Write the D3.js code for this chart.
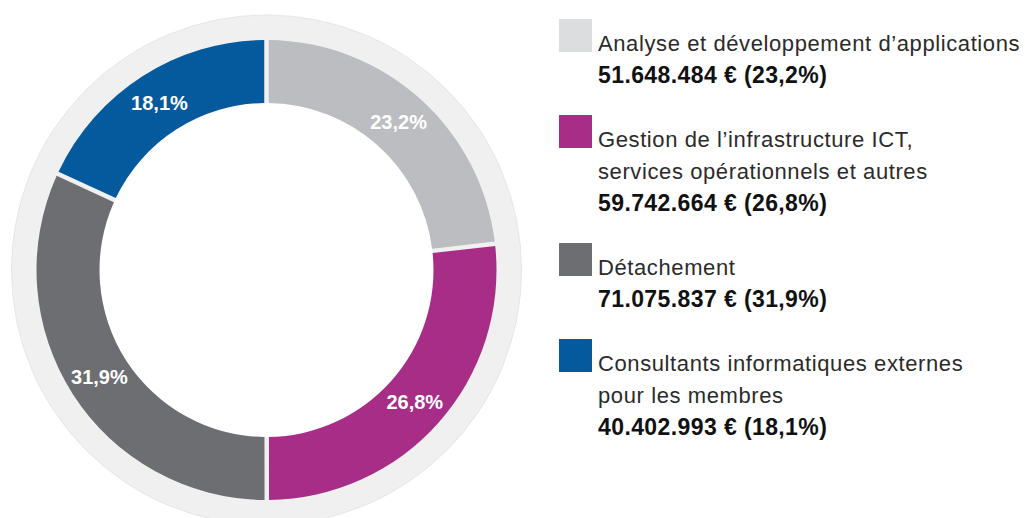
<!DOCTYPE html>
<html>
<head>
<meta charset="utf-8">
<script src="https://cdn.jsdelivr.net/npm/d3@7"></script>
<style>
  body { margin: 0; background: #fff; }
  svg { display: block; font-family: "Liberation Sans", Arial, sans-serif; }
</style>
</head>
<body>
<div class="visHolder"></div>
<script>
var width = 1025,
  height = 518;

// data
const categories = [
  ["Analyse et développement d’applications"],
  ["Gestion de l’infrastructure ICT,", "services opérationnels et autres"],
  ["Détachement"],
  ["Consultants informatiques externes", "pour les membres"]
];
const values = [51648484, 59742664, 71075837, 40402993];
const amountLabels = ["51.648.484 €", "59.742.664 €", "71.075.837 €", "40.402.993 €"];
const shareLabels = ["23,2%", "26,8%", "31,9%", "18,1%"];

const sliceColors = ["#bcbdc0", "#a82d87", "#6d6e72", "#045a9c"];
const swatchColors = ["#dcdddf", "#a82d87", "#6d6e72", "#045a9c"];

var cx = 266.5, cy = 270,
  outerR = 230, innerR = 167, ringR = 255;

var svgContainer = d3.select(".visHolder").append("svg").attr("width", width).attr("height", height);

var chart = svgContainer.append("g").attr("transform", `translate(${cx}, ${cy})`);

// light background ring
chart.append("circle")
  .attr("r", ringR)
  .style("fill", "#f0f0f0")
  .style("stroke", "#e6e6e6")
  .style("stroke-width", 1);
chart.append("circle")
  .attr("r", innerR)
  .style("fill", "#fff");

var pie = d3.pie().sort(null).value(d => d);
var arcs = pie(values);

var arc = d3.arc()
  .innerRadius(innerR)
  .outerRadius(outerR)
  .padAngle(4.5 / outerR)
  .padRadius(outerR);

var labelArc = d3.arc().innerRadius(innerR).outerRadius(outerR);

chart.selectAll(".slice")
  .data(arcs)
  .enter()
  .append("path")
  .attr("class", "slice")
  .attr("d", arc)
  .style("fill", (d, i) => sliceColors[i]);

chart.selectAll(".share")
  .data(arcs)
  .enter()
  .append("text")
  .attr("class", "share")
  .attr("transform", d => "translate(" + labelArc.centroid(d) + ")")
  .attr("text-anchor", "middle")
  .attr("dy", "0.36em")
  .style("fill", "#fff")
  .style("font-size", "20px")
  .style("font-weight", "bold")
  .text((d, i) => shareLabels[i]);

// legend
var lineStep = 32;
var legend = svgContainer.append("g").attr("id", "legend");
var yPos = 19;

categories.forEach(function (lines, i) {
  var g = legend.append("g").attr("transform", `translate(559, ${yPos})`);
  g.append("rect")
    .attr("width", 33)
    .attr("height", 33)
    .style("fill", swatchColors[i]);

  lines.forEach(function (line, j) {
    g.append("text")
      .attr("x", 39)
      .attr("y", 32 + j * lineStep)
      .style("font-size", "22px")
      .style("letter-spacing", "0.6px")
      .style("fill", "#2b2b2b")
      .text(line);
  });

  g.append("text")
    .attr("x", 39)
    .attr("y", 32 + lines.length * lineStep)
    .style("font-size", "23px")
    .style("letter-spacing", "0.4px")
    .style("font-weight", "bold")
    .style("fill", "#111")
    .text(amountLabels[i] + " (" + shareLabels[i] + ")");

  yPos += (lines.length + 2) * lineStep;
});
</script>
</body>
</html>
